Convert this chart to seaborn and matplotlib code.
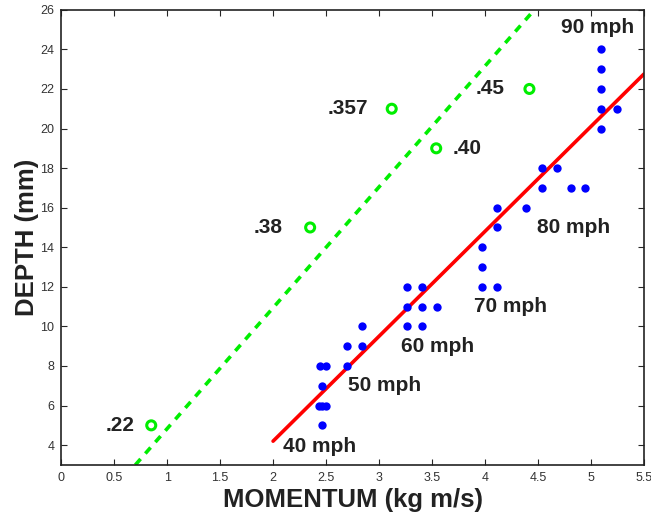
import matplotlib
matplotlib.use("Agg")
import matplotlib.pyplot as plt
import pandas as pd
import seaborn as sns

# blue measured points (momentum, depth)
dot_x = [2.46, 2.43, 2.46, 2.50, 2.46, 2.44, 2.50, 2.70, 2.70, 2.84, 2.84,
         3.26, 3.41, 3.26, 3.41, 3.55, 3.26, 3.41,
         3.97, 4.11, 3.97, 3.97, 4.11, 4.11, 4.39,
         4.54, 4.81, 4.94, 4.54, 4.68,
         5.10, 5.10, 5.10, 5.10, 5.25, 5.10]
dot_y = [5, 6, 6, 6, 7, 8, 8, 8, 9, 9, 10,
         10, 10, 11, 11, 11, 12, 12,
         12, 12, 13, 14, 15, 16, 16,
         17, 17, 17, 18, 18,
         24, 23, 22, 21, 21, 20]

# green open circles with their labels
ring_x = [0.85, 2.35, 3.12, 3.54, 4.42]
ring_y = [5, 15, 21, 19, 22]
ring_labels = [".22", ".38", ".357", ".40", ".45"]
ring_label_x = [0.56, 1.95, 2.71, 3.83, 4.05]

# speed annotations
speed_labels = ["40 mph", "50 mph", "60 mph", "70 mph", "80 mph", "90 mph"]
speed_x = [2.44, 3.05, 3.55, 4.24, 4.84, 5.06]
speed_y = [3.93, 7.0, 8.98, 11.0, 15.0, 25.1]

# fitted lines (end points)
red_x = [2.0, 5.5]
red_y = [4.2, 22.75]
green_x = [0.70, 4.45]
green_y = [3.0, 25.9]

sns.set_style("ticks")
plt.rcParams["font.family"] = ["Liberation Sans", "DejaVu Sans"]
plt.rcParams["xtick.direction"] = "in"
plt.rcParams["ytick.direction"] = "in"

fig = plt.figure(figsize=(6.51, 5.16), dpi=100)
ax = fig.add_axes([0.094, 0.099, 0.895, 0.882])

sns.lineplot(x=green_x, y=green_y, ax=ax, color="#00ee00", lw=2.6,
             linestyle=(0, (2.2, 2.0)))
sns.lineplot(x=red_x, y=red_y, ax=ax, color="red", lw=2.6)

df = pd.DataFrame({"x": dot_x, "y": dot_y})
sns.scatterplot(data=df, x="x", y="y", ax=ax, color="blue", s=36,
                edgecolor="blue", linewidth=0, zorder=3)
sns.scatterplot(x=ring_x, y=ring_y, ax=ax, facecolor="none",
                edgecolor="#00ee00", s=42, linewidth=2.2, zorder=3)

txt = "#222222"
for lab, lx, ly in zip(ring_labels, ring_label_x, ring_y):
    ax.text(lx, ly, lab, ha="center", va="center", fontsize=15,
            fontweight="bold", color=txt)
for lab, sx, sy in zip(speed_labels, speed_x, speed_y):
    ax.text(sx, sy, lab, ha="center", va="center", fontsize=15,
            fontweight="bold", color=txt)

ax.set_xlim(0, 5.5)
ax.set_ylim(3, 26)
ax.set_xticks([0, 0.5, 1, 1.5, 2, 2.5, 3, 3.5, 4, 4.5, 5, 5.5])
ax.set_xticklabels(["0", "0.5", "1", "1.5", "2", "2.5", "3", "3.5", "4", "4.5", "5", "5.5"])
ax.set_yticks(range(4, 27, 2))
ax.tick_params(top=True, right=True, labelsize=9, length=4, width=0.8,
               labelcolor="#333333", pad=5)
for sp in ax.spines.values():
    sp.set_visible(True)
    sp.set_color("#222222")
    sp.set_linewidth(1.2)

ax.set_xlabel("MOMENTUM (kg m/s)", fontsize=18.5, fontweight="bold", color=txt, labelpad=3)
ax.set_ylabel("DEPTH (mm)", fontsize=18.5, fontweight="bold", color=txt, labelpad=1)

fig.savefig("out.png", dpi=100)
